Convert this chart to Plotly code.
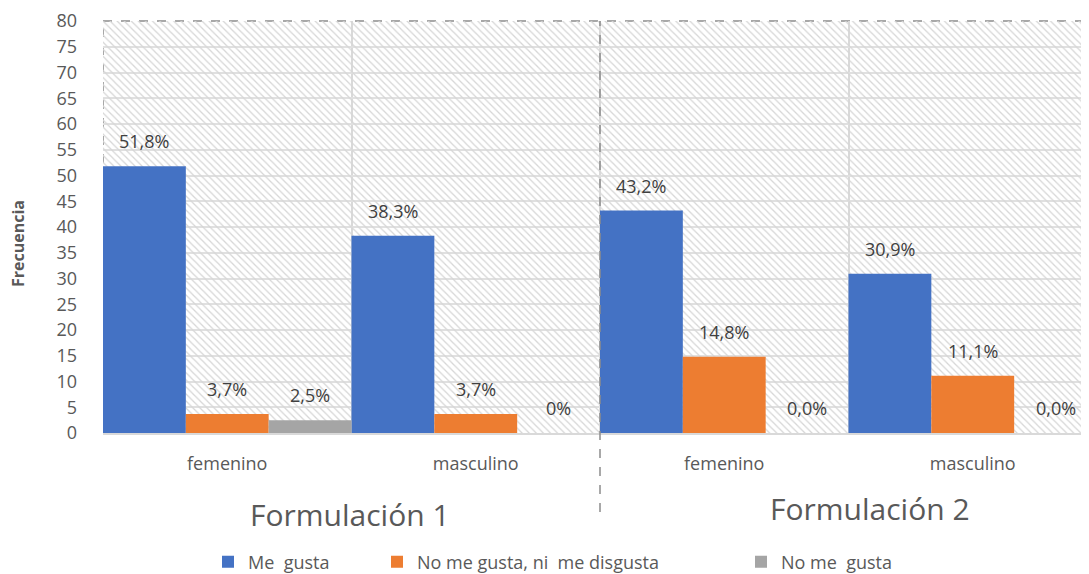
import plotly.graph_objects as go

# ---- data ----
categories = ["F1 femenino", "F1 masculino", "F2 femenino", "F2 masculino"]
category_labels = ["femenino", "masculino", "femenino", "masculino"]
group_labels = ["Formulación 1", "Formulación 2"]
series_names = ["Me\u00a0 gusta", "No me gusta, ni\u00a0 me disgusta", "No me\u00a0 gusta"]
me_gusta = [51.8, 38.3, 43.2, 30.9]
ni_ni = [3.7, 3.7, 14.8, 11.1]
no_me_gusta = [2.5, 0.0, 0.0, 0.0]
labels_me_gusta = ["51,8%", "38,3%", "43,2%", "30,9%"]
labels_ni_ni = ["3,7%", "3,7%", "14,8%", "11,1%"]
labels_no_me_gusta = ["2,5%", "0%", "0,0%", "0,0%"]
y_max = 80
y_ticks = list(range(0, 81, 5))

colors = ["#4472C4", "#ED7D31", "#A5A5A5"]
FONT = "'Open Sans', sans-serif"
TXT = "#595959"

W, H = 1089, 574
ML, MT, MB = 95, 13, 149
PH = H - MT - MB  # plot height in px

fig = go.Figure()

# hatched plot-area background
fig.add_trace(go.Bar(
    x=categories, y=[y_max] * len(categories), width=1, offset=-0.5,
    marker=dict(color="rgba(0,0,0,0)", line=dict(width=0),
                pattern=dict(shape="\\", fgcolor="#d6d6d6", bgcolor="rgba(0,0,0,0)",
                             size=5, solidity=0.25, fillmode="replace")),
    showlegend=False, hoverinfo="skip"))

series = [me_gusta, ni_ni, no_me_gusta]
labels = [labels_me_gusta, labels_ni_ni, labels_no_me_gusta]
legend_ids = ["legend", "legend2", "legend3"]
for k, (vals, name) in enumerate(zip(series, series_names)):
    fig.add_trace(go.Bar(
        x=categories, y=vals, name=name, width=1 / 3, offset=-0.5 + k / 3,
        legend=legend_ids[k],
        marker=dict(color=colors[k], line=dict(width=0))))

annotations = []
for k, (vals, labs) in enumerate(zip(series, labels)):
    for i, (v, t) in enumerate(zip(vals, labs)):
        annotations.append(dict(
            x=i - 1 / 3 + k / 3, y=v, xref="x", yref="y", text=t, showarrow=False,
            yanchor="middle", yshift=25, font=dict(family=FONT, size=18, color="#404040")))

annotations.append(dict(x=0.494, y=-82 / PH, xref="x", yref="paper", text=group_labels[0],
                        showarrow=False, yanchor="middle",
                        font=dict(family=FONT, size=30, color=TXT)))
annotations.append(dict(x=2.587, y=-76 / PH, xref="x", yref="paper", text=group_labels[1],
                        showarrow=False, yanchor="middle",
                        font=dict(family=FONT, size=30, color=TXT)))
# y-axis title
annotations.append(dict(x=(10 - ML) / (W - ML), y=(425 - 236) / PH, xref="paper", yref="paper",
                        xanchor="center", yanchor="middle",
                        text="<b>Frecuencia</b>", textangle=-90, showarrow=False,
                        font=dict(family=FONT, size=16, color=TXT)))

shapes = [
    dict(type="line", xref="x", yref="paper", x0=-0.5, x1=3.5, y0=1, y1=1,
         line=dict(color="#8c8c8c", width=1.5, dash="dash"), layer="below"),
    dict(type="line", xref="x", yref="paper", x0=-0.5, x1=-0.5, y0=0, y1=1,
         line=dict(color="#8c8c8c", width=1.5, dash="dash"), layer="below"),
    dict(type="line", xref="x", yref="paper", x0=1.5, x1=1.5, y0=-79 / PH, y1=1,
         line=dict(color="#8c8c8c", width=1.5, dash="dash"), layer="above"),
]

# legend text start positions (figure px)
legend_text_x = [242, 411, 775]
legend_y = 554
legends = {}
for k, lid in enumerate(legend_ids):
    legends[lid] = dict(orientation="h", xref="container", yref="container",
                        x=(legend_text_x[k] - 42) / W, xanchor="left",
                        y=(H - legend_y) / H, yanchor="middle",
                        bgcolor="rgba(0,0,0,0)", itemwidth=30,
                        font=dict(family=FONT, size=18, color=TXT))

fig.update_layout(
    width=W, height=H,
    margin=dict(l=ML, r=0, t=MT, b=MB, autoexpand=False),
    paper_bgcolor="white", plot_bgcolor="white",
    barmode="overlay",
    font=dict(family=FONT, size=18, color=TXT),
    annotations=annotations, shapes=shapes,
    **legends,
    xaxis=dict(type="category", categoryorder="array", categoryarray=categories,
               tickvals=categories, ticktext=category_labels, tickson="boundaries",
               range=[-0.5, 3.5], showgrid=True, gridcolor="#d9d9d9", gridwidth=1.5,
               showline=True, linecolor="#d9d9d9", linewidth=1.5, ticks="",
               ticklabelstandoff=14, tickfont=dict(family=FONT, size=18, color=TXT),
               zeroline=False, automargin=False),
    yaxis=dict(range=[0, y_max], tickvals=y_ticks, showgrid=True, gridcolor="#e0e0e0",
               gridwidth=1.5, zeroline=False, ticks="", ticklabelstandoff=25,
               ticklabeloverflow="allow",
               tickfont=dict(family=FONT, size=18, color=TXT), automargin=False),
)

fig.write_html("out.html")
